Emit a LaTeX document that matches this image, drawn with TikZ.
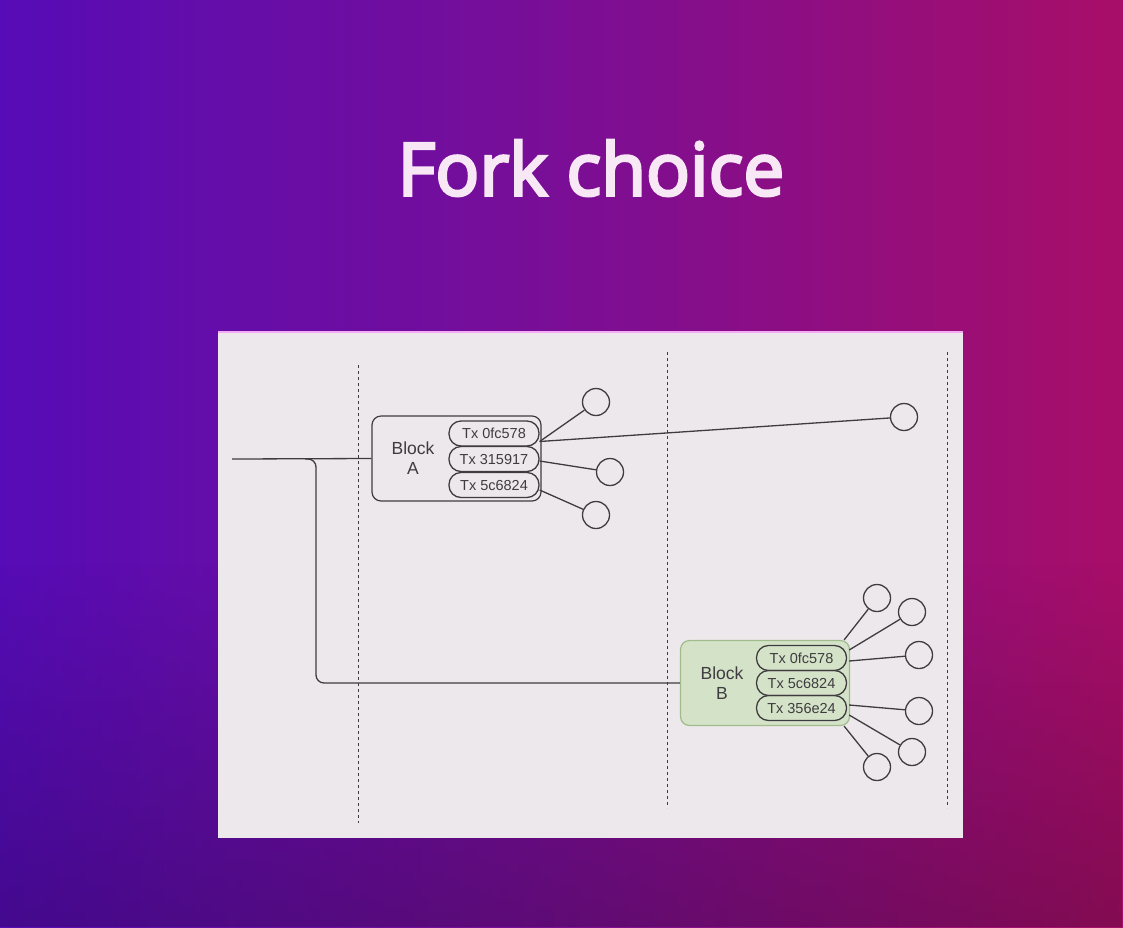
\documentclass[tikz,border=0pt]{standalone}
\usepackage{fontspec}
\usetikzlibrary{fadings}
\setmainfont{Liberation Sans}
\newfontfamily\titlefont{Open Sans}
\definecolor{bgL}{RGB}{86,12,182}
\definecolor{bgM}{RGB}{122,14,150}
\definecolor{bgR}{RGB}{168,14,104}
\definecolor{panel}{RGB}{237,232,236}
\definecolor{ink}{RGB}{62,60,64}
\definecolor{titlec}{RGB}{248,232,246}
\definecolor{gfill}{RGB}{212,226,200}
\definecolor{gline}{RGB}{160,188,140}
\newcommand{\heavytext}[1]{\special{pdf:literal direct 2 Tr 2.8 w}#1\special{pdf:literal direct 0 Tr}}
\tikzset{
  conn/.style={draw=ink, line width=1.3pt},
  sep/.style={draw=ink, line width=1pt, dash pattern=on 3pt off 3pt},
  blockbox/.style={draw=ink, line width=1.2pt, rounded corners=9pt, minimum width=169pt, minimum height=85pt, inner sep=0pt},
  blockgreen/.style={blockbox, fill=gfill, draw=gline},
  pill/.style={draw=ink, line width=1.3pt, rounded corners=12pt, minimum width=90pt, minimum height=25pt, inner sep=0pt, font=\fontsize{14.5}{14.5}\selectfont, text=ink},
  txnode/.style={circle, draw=ink, line width=1.3pt, minimum size=27pt, inner sep=0pt, fill=panel},
  blabel/.style={align=center, font=\fontsize{17.5}{20}\selectfont, text=ink}
}
\begin{document}
\begin{tikzpicture}[x=1pt,y=-1pt]
\useasboundingbox (0,0) rectangle (1123,927);
\shade[left color=bgL, right color=bgR, middle color=bgM] (0,0) rectangle (1123,927);
\fill[black, opacity=0.22, path fading=north] (0,560) rectangle (1123,927);
\node[font=\titlefont\fontsize{73}{76}\selectfont, text=titlec] (title) at (591,168) {\heavytext{Fork choice}};
% panel
\fill[panel] (218,332) rectangle (963,838);
\draw[color={rgb,255:red,245;green,170;blue,245}, line width=2pt] (218,332) -- (963,332);
% separators
\draw[sep] (358,365) -- (358,823);
\draw[sep] (667,352) -- (667,808);
\draw[sep] (947,352) -- (947,808);
% blocks
\node[blockbox] (A) at (456.5,458.5) {};
\node[blabel] (Alab) at (413,458) {Block\\A};
\node[pill] (A1) at (494,433.5) {Tx 0fc578};
\node[pill] (A2) at (494,459) {Tx 315917};
\node[pill] (A3) at (494,485) {Tx 5c6824};
\node[blockgreen] (B) at (765,683) {};
\node[blabel] (Blab) at (722,683) {Block\\B};
\node[pill] (B1) at (801.5,658) {Tx 0fc578};
\node[pill] (B2) at (801.5,683) {Tx 5c6824};
\node[pill] (B3) at (801.5,708) {Tx 356e24};
% circles
\node[txnode] (a1) at (596,402) {};
\node[txnode] (a2) at (904,417) {};
\node[txnode] (a3) at (610,472) {};
\node[txnode] (a4) at (596,515) {};
\node[txnode] (b1) at (877,598) {};
\node[txnode] (b2) at (912,612) {};
\node[txnode] (b3) at (919,655) {};
\node[txnode] (b4) at (919,711) {};
\node[txnode] (b5) at (912,752) {};
\node[txnode] (b6) at (877,767) {};
% chain
\coordinate (start) at (232,459);
\coordinate (fork) at (305,459);
\draw[conn] (start) -- (A.west);
\draw[conn, rounded corners=8pt] (fork) -| (316,683) -- (B.west);
% tx links A
\draw[conn] (A1.east) ++(0,8) coordinate (pa) -- (a1);
\draw[conn] (pa) -- (a2);
\draw[conn] (A2.east) ++(0,2) coordinate (pb) -- (a3);
\draw[conn] (A3.east) ++(0,5) coordinate (pc) -- (a4);
% tx links B
\draw[conn] (B.north east) ++(-6,0) coordinate (q1) -- (b1);
\draw[conn] (B1.east) ++(2,-8) coordinate (q2) -- (b2);
\draw[conn] (B1.east) ++(2,3) coordinate (q3) -- (b3);
\draw[conn] (B3.east) ++(2,-3) coordinate (q4) -- (b4);
\draw[conn] (B3.east) ++(2,7) coordinate (q5) -- (b5);
\draw[conn] (B.south east) ++(-6,0) coordinate (q6) -- (b6);
\end{tikzpicture}
\end{document}
